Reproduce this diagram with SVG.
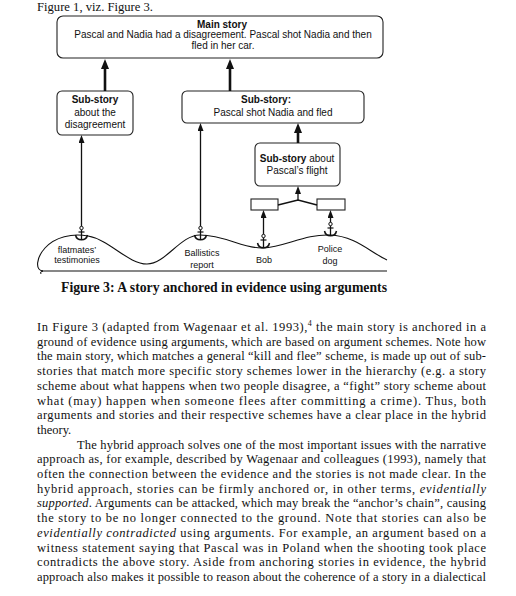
<svg xmlns="http://www.w3.org/2000/svg" width="516" height="596" viewBox="0 0 516 596">
<style>
.box{fill:#fff;stroke:#222;stroke-width:1.1}
.t{font-family:"Liberation Sans",Arial,sans-serif;font-size:10px;fill:#111;text-anchor:middle}
.b{font-weight:bold}
.lab{font-family:"Liberation Sans",Arial,sans-serif;font-size:9px;fill:#111;text-anchor:middle}
.thick{stroke:#111;stroke-width:2.6;fill:none}
.thin{stroke:#111;stroke-width:1.3;fill:none}
.body{font-family:"Liberation Serif","Times New Roman",serif;font-size:12.5px;fill:#111}
.cap{font-family:"Liberation Serif","Times New Roman",serif;font-size:14px;font-weight:bold;fill:#111}
</style>
<defs>
<marker id="ah" viewBox="0 0 10 10" markerUnits="userSpaceOnUse" markerWidth="10" markerHeight="10" refX="5" refY="5" orient="auto">
<path d="M0,1 L10,5 L0,9 z" fill="#111"/>
</marker>
<marker id="as" viewBox="0 0 8 6" markerUnits="userSpaceOnUse" markerWidth="8" markerHeight="6" refX="4" refY="3" orient="auto">
<path d="M0,0 L8,3 L0,6 z" fill="#111"/>
</marker>
<g id="anchor">
<circle cx="0" cy="0" r="1.7" fill="#fff" stroke="#111" stroke-width="1"/>
<line x1="0" y1="1.7" x2="0" y2="11.5" stroke="#111" stroke-width="1.3"/>
<line x1="-3" y1="4" x2="3" y2="4" stroke="#111" stroke-width="1.2"/>
<path d="M-6,7 Q-5,11.8 0,11.8 Q5,11.8 6,7" fill="none" stroke="#111" stroke-width="1.5"/>
</g>
</defs>

<text class="body" x="37" y="10.5" font-size="12" textLength="116" lengthAdjust="spacingAndGlyphs">Figure 1, viz. Figure 3.</text>

<g id="ground">
<path d="M43,271 C35,270 36,258 45,248 C55,237 72,233 88,236 C110,240 128,264 147,264 C166,264 180,235 200,235 C225,235 244,249 263,248 C285,247 305,234 330,235 C355,236 370,252 387,260" fill="none" stroke="#111" stroke-width="1.1"/>
<line x1="41" y1="271" x2="387" y2="271" stroke="#111" stroke-width="1.1"/>
<path d="M43,271 Q39,272 41,274" fill="none" stroke="#111" stroke-width="1"/>
</g>

<g id="main-story">
<rect class="box" x="57" y="16" width="326" height="42" rx="6"/>
<text class="t b" x="222" y="27.5">Main story</text>
<text class="t" x="223" y="38">Pascal and Nadia had a disagreement. Pascal shot Nadia and then</text>
<text class="t" x="223" y="48.5">fled in her car.</text>
</g>

<g id="sub-disagreement">
<rect class="box" x="57" y="91" width="76" height="44" rx="5"/>
<text class="t b" x="95" y="103">Sub-story</text>
<text class="t" x="95" y="115.5">about the</text>
<text class="t" x="95" y="127.5">disagreement</text>
</g>

<g id="sub-shot">
<rect class="box" x="182" y="91" width="182" height="32" rx="5"/>
<text class="t b" x="266" y="103">Sub-story:</text>
<text class="t" x="273" y="115.5">Pascal shot Nadia and fled</text>
</g>

<g id="sub-flight">
<rect class="box" x="255" y="143" width="85" height="43" rx="5"/>
<text class="t" x="297" y="161.5"><tspan class="b">Sub-story</tspan> about</text>
<text class="t" x="297" y="173.5">Pascal’s flight</text>
</g>

<g id="arg-bob">
<rect class="box" x="251" y="199" width="27" height="11"/>
</g>
<g id="arg-dog">
<rect class="box" x="317" y="199" width="28" height="11"/>
</g>

<g id="ev-flatmates">
<use href="#anchor" x="81.5" y="228"/>
<text class="lab" x="77" y="252.5">flatmates’</text>
<text class="lab" x="77" y="263">testimonies</text>
</g>
<g id="ev-ballistics">
<use href="#anchor" x="200.5" y="228"/>
<text class="lab" x="202" y="256">Ballistics</text>
<text class="lab" x="202" y="268">report</text>
</g>
<g id="ev-bob">
<use href="#anchor" x="263.5" y="236"/>
<text class="lab" x="264" y="263">Bob</text>
</g>
<g id="ev-dog">
<use href="#anchor" x="330.5" y="224"/>
<text class="lab" x="330" y="252">Police</text>
<text class="lab" x="330" y="264">dog</text>
</g>

<g id="connectors">
<line class="thick" x1="105" y1="91" x2="105" y2="64" marker-end="url(#ah)"/>
<line class="thick" x1="230" y1="91" x2="230" y2="64" marker-end="url(#ah)"/>
<line class="thick" x1="298" y1="143" x2="298" y2="128" marker-end="url(#ah)"/>
<line class="thin" x1="81.5" y1="226.3" x2="81.5" y2="139" marker-end="url(#as)"/>
<line class="thin" x1="200.5" y1="226.3" x2="200.5" y2="127" marker-end="url(#as)"/>
<line class="thin" x1="298" y1="200" x2="298" y2="190" marker-end="url(#as)"/>
<line class="thin" x1="263.5" y1="234.3" x2="263.5" y2="214" marker-end="url(#as)"/>
<line class="thin" x1="330.5" y1="222.3" x2="330.5" y2="214" marker-end="url(#as)"/>
<path class="thin" d="M278,205 L298,200 L317,205" stroke-width="1.6"/>
</g>

<text class="cap" x="61" y="292" textLength="326" lengthAdjust="spacingAndGlyphs">Figure 3: A story anchored in evidence using arguments</text>

<g id="body">
<text class="body" x="37" y="331" textLength="449" lengthAdjust="spacing">In Figure 3 (adapted from Wagenaar et al. 1993),<tspan font-size="8" dy="-5">4</tspan><tspan dy="5"> the main story is anchored in a</tspan></text>
<text class="body" x="37" y="345.7" textLength="449" lengthAdjust="spacing">ground of evidence using arguments, which are based on argument schemes. Note how</text>
<text class="body" x="37" y="360.4" textLength="449" lengthAdjust="spacing">the main story, which matches a general “kill and flee” scheme, is made up out of sub-</text>
<text class="body" x="37" y="375.1" textLength="449" lengthAdjust="spacing">stories that match more specific story schemes lower in the hierarchy (e.g. a story</text>
<text class="body" x="37" y="389.8" textLength="449" lengthAdjust="spacing">scheme about what happens when two people disagree, a “fight” story scheme about</text>
<text class="body" x="37" y="404.5" textLength="449" lengthAdjust="spacing">what (may) happen when someone flees after committing a crime). Thus, both</text>
<text class="body" x="37" y="419.2" textLength="449" lengthAdjust="spacing">arguments and stories and their respective schemes have a clear place in the hybrid</text>
<text class="body" x="37" y="433.9">theory.</text>
<text class="body" x="77" y="448.6" textLength="409" lengthAdjust="spacing">The hybrid approach solves one of the most important issues with the narrative</text>
<text class="body" x="37" y="463.3" textLength="449" lengthAdjust="spacing">approach as, for example, described by Wagenaar and colleagues (1993), namely that</text>
<text class="body" x="37" y="478" textLength="449" lengthAdjust="spacing">often the connection between the evidence and the stories is not made clear. In the</text>
<text class="body" x="37" y="492.7" textLength="449" lengthAdjust="spacing">hybrid approach, stories can be firmly anchored or, in other terms, <tspan font-style="italic">evidentially</tspan></text>
<text class="body" x="37" y="507.4" textLength="449" lengthAdjust="spacing"><tspan font-style="italic">supported</tspan>. Arguments can be attacked, which may break the “anchor’s chain”, causing</text>
<text class="body" x="37" y="522.1" textLength="449" lengthAdjust="spacing">the story to be no longer connected to the ground. Note that stories can also be</text>
<text class="body" x="37" y="536.8" textLength="449" lengthAdjust="spacing"><tspan font-style="italic">evidentially contradicted</tspan> using arguments. For example, an argument based on a</text>
<text class="body" x="37" y="551.5" textLength="449" lengthAdjust="spacing">witness statement saying that Pascal was in Poland when the shooting took place</text>
<text class="body" x="37" y="566.2" textLength="449" lengthAdjust="spacing">contradicts the above story. Aside from anchoring stories in evidence, the hybrid</text>
<text class="body" x="37" y="580.9" textLength="449" lengthAdjust="spacing">approach also makes it possible to reason about the coherence of a story in a dialectical</text>
</g>
</svg>
